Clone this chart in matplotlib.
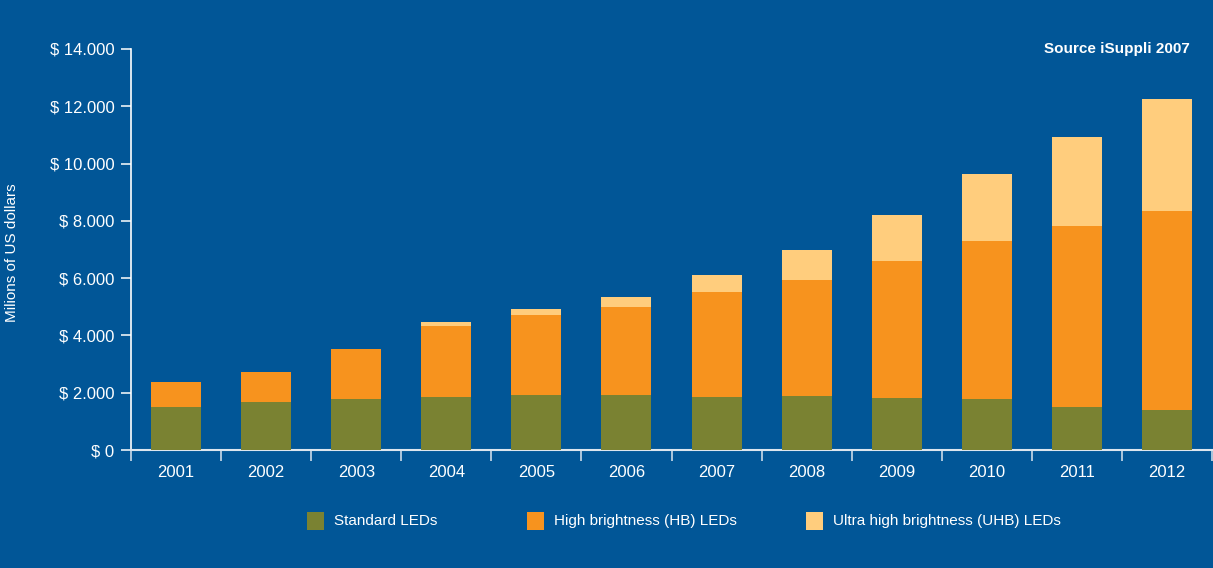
import matplotlib.pyplot as plt
from matplotlib.patches import Rectangle
import numpy as np

# ── DATA ──
years = ['2001', '2002', '2003', '2004', '2005', '2006',
         '2007', '2008', '2009', '2010', '2011', '2012']
standard = [1500, 1680, 1780, 1850, 1920, 1920, 1850, 1880, 1820, 1780, 1500, 1400]
high_b = [870, 1040, 1750, 2480, 2790, 3070, 3660, 4050, 4780, 5510, 6320, 6940]
ultra_hb = [0, 0, 0, 140, 200, 350, 600, 1050, 1600, 2340, 3100, 3910]
series_names = ['Standard LEDs', 'High brightness (HB) LEDs',
                'Ultra high brightness (UHB) LEDs']
y_ticks = [0, 2000, 4000, 6000, 8000, 10000, 12000, 14000]

# ── PALETTE ──
BG = '#015697'
GREEN = '#7a8232'
ORANGE = '#f7931e'
PALE = '#ffcd7d'
WHITE = '#ffffff'
colors = [GREEN, ORANGE, PALE]

plt.rcParams['font.family'] = ['Liberation Sans', 'DejaVu Sans']

fig = plt.figure(figsize=(12.13, 5.68), dpi=100)
fig.patch.set_facecolor(BG)
ax = fig.add_axes([131 / 1213, 118 / 568, 1081 / 1213, 401 / 568])
ax.set_facecolor(BG)

x = np.arange(len(years))
w = 0.555
bottom = np.zeros(len(years))
for vals, c in zip([standard, high_b, ultra_hb], colors):
    vals = np.array(vals, dtype=float)
    ax.bar(x, vals, width=w, bottom=bottom, color=c, zorder=3, linewidth=0)
    bottom += vals

ax.set_xlim(-0.5, len(years) - 0.5)
ax.set_ylim(0, 14000)

for s in ['top', 'right']:
    ax.spines[s].set_visible(False)
ax.spines['left'].set_color(WHITE)
ax.spines['bottom'].set_color('#dde6ef')
ax.spines['left'].set_linewidth(1.2)
ax.spines['bottom'].set_linewidth(1.5)

ax.set_yticks(y_ticks)
ax.set_yticklabels(['$ 0' if v == 0 else '$ ' + f'{v:,}'.replace(',', '.') for v in y_ticks],
                   fontsize=12, color=WHITE)
ax.tick_params(axis='y', colors=WHITE, length=7, width=1.1, pad=5, labelcolor=WHITE)

ax.set_xticks(x)
ax.set_xticklabels(years, fontsize=12, color=WHITE)
ax.set_xticks(np.arange(-0.5, len(years)), minor=True)
ax.tick_params(axis='x', which='major', length=0, pad=11, labelcolor=WHITE)
ax.tick_params(axis='x', which='minor', length=8, width=1.1, color='#dde6ef')

fig.text(12 / 1213, 1 - 253 / 568, 'Milions of US dollars', rotation=90,
         ha='center', va='center', fontsize=11, color=WHITE)

fig.text(1190 / 1213, 1 - 49 / 568, 'Source iSuppli 2007', ha='right', va='center',
         fontsize=11, fontweight='bold', color=WHITE)

# ── LEGEND ──
leg_x = [307, 527, 806]
for px, c, name in zip(leg_x, colors, series_names):
    fig.add_artist(Rectangle((px / 1213, 1 - 530 / 568), 17 / 1213, 18 / 568,
                             transform=fig.transFigure, facecolor=c, edgecolor='none'))
    fig.text((px + 27) / 1213, 1 - 521 / 568, name, ha='left', va='center',
             fontsize=11, color=WHITE)

plt.savefig('out.png', dpi=100, facecolor=BG)
